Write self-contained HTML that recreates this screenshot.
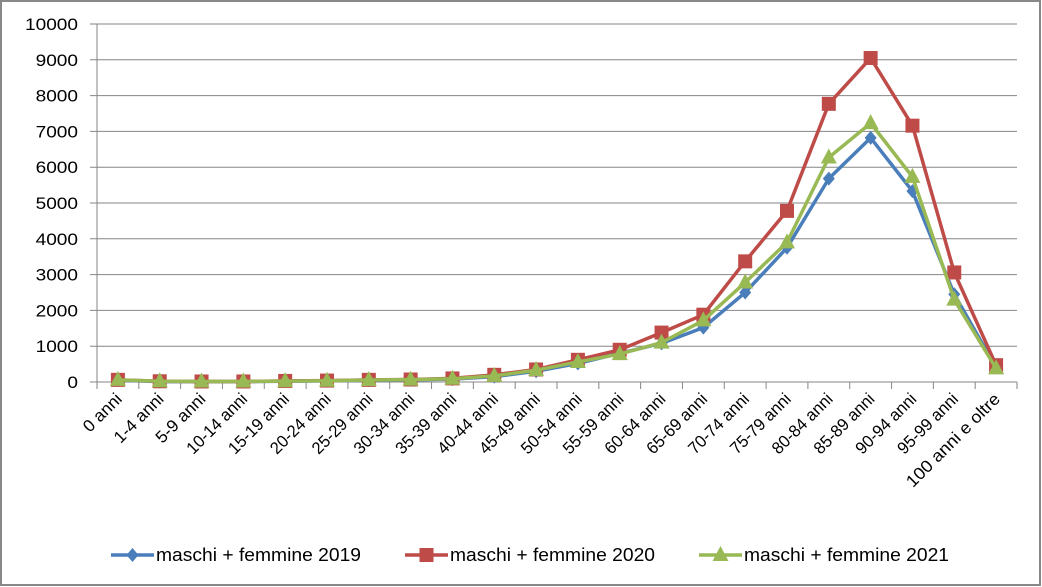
<!DOCTYPE html>
<html><head><meta charset="utf-8"><style>
html,body{margin:0;padding:0;background:#fff}
svg{display:block;font-family:"Liberation Sans",sans-serif}
</style></head><body>
<svg id="c" width="1042" height="587" xmlns="http://www.w3.org/2000/svg"></svg>
<script>
const s=document.getElementById('c');let h='';
h+='<rect x="1" y="1" width="1039" height="584" fill="#fff" stroke="#888" stroke-width="2"/>';
const L=97,R=1017,T=24,B=382,n=22,st=(R-L)/n;
const Y=v=>B-v*(B-T)/10000, X=i=>L+st*(i+0.5);
for(let k=0;k<=10;k++){const y=Y(k*1000);
h+=`<line x1="${L-7}" y1="${y}" x2="${R}" y2="${y}" stroke="#868686" stroke-width="1"/>`;
h+=`<text x="${L-19}" y="${y+6}" font-size="17" text-anchor="end" fill="#000" textLength="${String(k*1000).length*10.6}" lengthAdjust="spacingAndGlyphs">${k*1000}</text>`;}
h+=`<line x1="${L}" y1="${T}" x2="${L}" y2="${B}" stroke="#868686"/>`;
for(let i=0;i<=n;i++){const x=L+st*i;h+=`<line x1="${x}" y1="${B}" x2="${x}" y2="${B+7}" stroke="#868686"/>`;}
const labs=["0 anni","1-4 anni","5-9 anni","10-14 anni","15-19 anni","20-24 anni","25-29 anni","30-34 anni","35-39 anni","40-44 anni","45-49 anni","50-54 anni","55-59 anni","60-64 anni","65-69 anni","70-74 anni","75-79 anni","80-84 anni","85-89 anni","90-94 anni","95-99 anni","100 anni e oltre"];
labs.forEach((t,i)=>{const x=X(i)+5,y=B+18;
h+=`<text x="${x}" y="${y}" font-size="17" text-anchor="end" transform="rotate(-45 ${x} ${y})" fill="#000" textLength="${t.length*7.8}" lengthAdjust="spacingAndGlyphs">${t}</text>`;});
const d19=[50,10,10,10,20,30,50,60,80,150,300,520,800,1080,1520,2500,3750,5680,6820,5330,2450,400];
const d20=[60,20,15,15,30,40,60,70,100,200,350,620,900,1380,1880,3370,4780,7770,9050,7160,3060,470];
const d21=[60,20,15,15,25,35,55,65,90,170,330,560,780,1100,1720,2780,3900,6270,7230,5730,2300,380];
function mk(t,x,y,c){
 if(t==0)return `<path d="M${x} ${y-7}L${x+6} ${y}L${x} ${y+7}L${x-6} ${y}Z" fill="${c}"/>`;
 if(t==1)return `<rect x="${x-7}" y="${y-7}" width="14" height="14" fill="${c}"/>`;
 return `<path d="M${x} ${y-9}L${x+8} ${y+6}L${x-8} ${y+6}Z" fill="${c}"/>`;}
function ser(d,c,t){
 h+=`<polyline fill="none" stroke="${c}" stroke-width="3.5" stroke-linejoin="round" points="${d.map((v,i)=>X(i)+','+Y(v)).join(' ')}"/>`;
 d.forEach((v,i)=>h+=mk(t,X(i),Y(v),c));}
ser(d19,'#4a7ebb',0);ser(d20,'#be4b48',1);ser(d21,'#98b954',2);
const lg=[[111,'#4a7ebb',0,'2019'],[405,'#be4b48',1,'2020'],[699,'#98b954',2,'2021']];
lg.forEach(([x,c,t,yr])=>{const y=555;
h+=`<line x1="${x}" y1="${y}" x2="${x+43}" y2="${y}" stroke="${c}" stroke-width="3.5"/>`+mk(t,x+21.5,y,c);
h+=`<text x="${x+45}" y="${y+6}" font-size="18" fill="#000" textLength="205" lengthAdjust="spacingAndGlyphs">maschi + femmine ${yr}</text>`;});
s.innerHTML=h;
</script>
</body></html>
